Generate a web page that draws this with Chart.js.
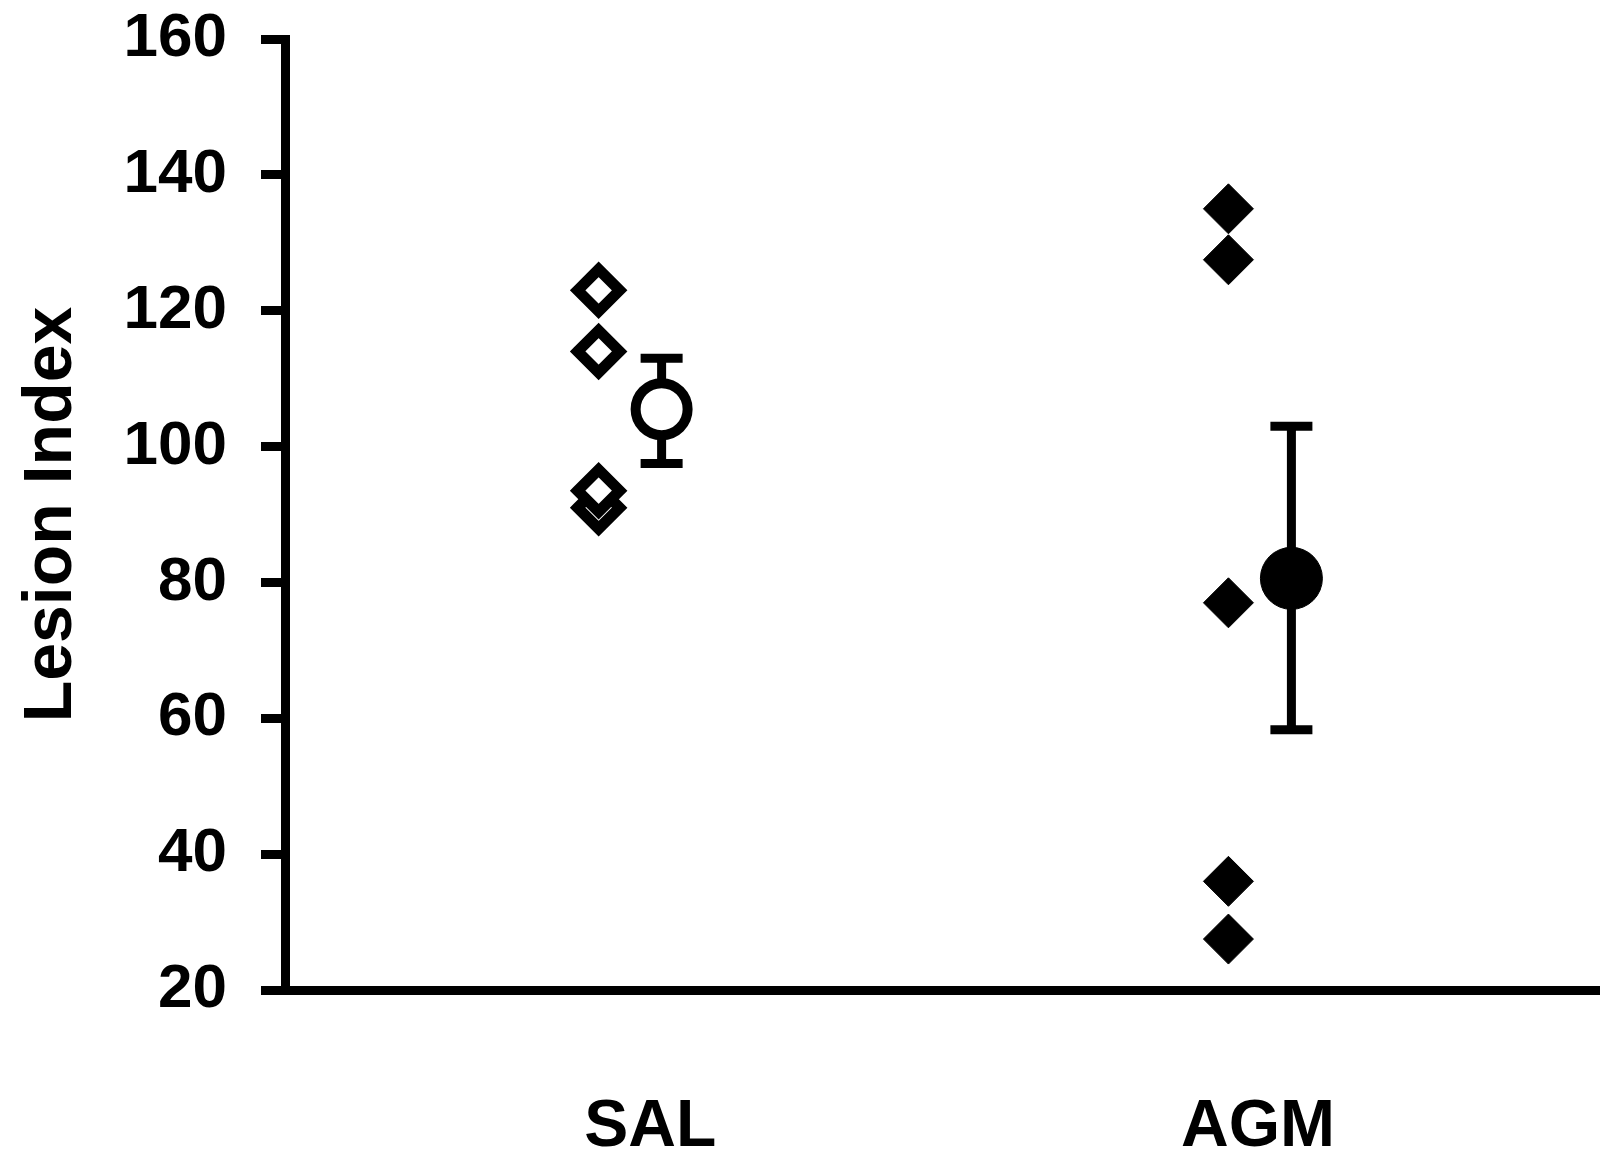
<!DOCTYPE html>
<html>
<head>
<meta charset="utf-8">
<script src="https://cdn.jsdelivr.net/npm/chart.js@4/dist/chart.umd.min.js"></script>
<style>
  html, body { margin: 0; padding: 0; background: #fff; }
  #wrap { width: 1600px; height: 1152px; }
</style>
</head>
<body>
<div id="wrap"><canvas id="chart" width="1600" height="1152"></canvas></div>
<script>
// Groups and where they sit on the x axis
const groups = ['SAL', 'AGM'];
const groupPos = [1, 2];
const labelPos = [1.032, 1.997];
const pointOffset = -0.05;
const meanOffset = 0.05;

// Individual animals (drawn in this order, last on top)
const salValues = [123, 114, 91, 93.5];
const agmValues = [135, 127.5, 77, 36, 27.5];

// Group means with error bar ends
const meanValues = [105.5, 80.6];
const errUpper = [113, 103];
const errLower = [97.5, 58.3];

// Y axis ticks
const yMin = 20;
const yMax = 160;
const yStep = 20;

const FONT = "'Liberation Sans', Arial, sans-serif";

/**
 * Draw mean +/- error bars under the points
 */
const errorBars = {
  id: 'errorBars',
  beforeDatasetsDraw(chart) {
    const { ctx, scales: { x, y } } = chart;
    ctx.save();
    ctx.strokeStyle = '#000';
    ctx.lineWidth = 9;
    ctx.lineCap = 'butt';
    groupPos.forEach((g, i) => {
      const px = x.getPixelForValue(g + meanOffset);
      const top = y.getPixelForValue(errUpper[i]);
      const bot = y.getPixelForValue(errLower[i]);
      ctx.beginPath();
      ctx.moveTo(px, top);
      ctx.lineTo(px, bot);
      ctx.moveTo(px - 21, top);
      ctx.lineTo(px + 21, top);
      ctx.moveTo(px - 21, bot);
      ctx.lineTo(px + 21, bot);
      ctx.stroke();
    });
    ctx.restore();
  }
};

const ctx = document.getElementById('chart').getContext('2d');

new Chart(ctx, {
  type: 'scatter',
  data: {
    datasets: [
      {
        label: 'SAL',
        data: salValues.map(v => ({ x: groupPos[0] + pointOffset, y: v })),
        pointStyle: 'rectRot',
        pointRadius: 21,
        borderWidth: 11,
        borderColor: '#000',
        backgroundColor: '#fff'
      },
      {
        label: 'AGM',
        data: agmValues.map(v => ({ x: groupPos[1] + pointOffset, y: v })),
        pointStyle: 'rectRot',
        pointRadius: 25,
        borderWidth: 1,
        borderColor: '#000',
        backgroundColor: '#000'
      },
      {
        label: 'SAL mean',
        data: [{ x: groupPos[0] + meanOffset, y: meanValues[0] }],
        pointStyle: 'circle',
        pointRadius: 26,
        borderWidth: 10,
        borderColor: '#000',
        backgroundColor: '#fff'
      },
      {
        label: 'AGM mean',
        data: [{ x: groupPos[1] + meanOffset, y: meanValues[1] }],
        pointStyle: 'circle',
        pointRadius: 31,
        borderWidth: 1,
        borderColor: '#000',
        backgroundColor: '#000'
      }
    ]
  },
  options: {
    responsive: false,
    animation: false,
    events: [],
    layout: {
      autoPadding: false,
      padding: { top: 39, right: 0, bottom: 0, left: 0 }
    },
    plugins: {
      legend: { display: false },
      tooltip: { enabled: false }
    },
    scales: {
      x: {
        type: 'linear',
        min: 0.452,
        max: 2.54,
        afterBuildTicks: scale => {
          scale.ticks = labelPos.map(v => ({ value: v }));
        },
        afterFit: scale => {
          scale.height = 162;
          scale.paddingLeft = 0;
          scale.paddingRight = 0;
        },
        grid: { display: false, drawTicks: false },
        border: { display: true, color: '#000', width: 9 },
        ticks: {
          autoSkip: false,
          maxRotation: 0,
          padding: 98,
          color: '#000',
          font: { family: FONT, size: 66, weight: 'bold' },
          callback: (value, index) => groups[index]
        }
      },
      y: {
        min: yMin,
        max: yMax,
        afterFit: scale => {
          scale.width = 285;
          scale.paddingTop = 0;
          scale.paddingBottom = 0;
        },
        grid: {
          drawOnChartArea: false,
          drawTicks: true,
          tickLength: 24,
          tickWidth: 9,
          tickColor: '#000'
        },
        border: { display: true, color: '#000', width: 9 },
        ticks: {
          stepSize: yStep,
          padding: 34,
          color: '#000',
          font: { family: FONT, size: 62, weight: 'bold' }
        },
        title: {
          display: true,
          text: 'Lesion Index',
          color: '#000',
          padding: { top: 11, bottom: 0 },
          font: { family: FONT, size: 68, weight: 'bold' }
        }
      }
    }
  },
  plugins: [errorBars]
});
</script>
</body>
</html>
